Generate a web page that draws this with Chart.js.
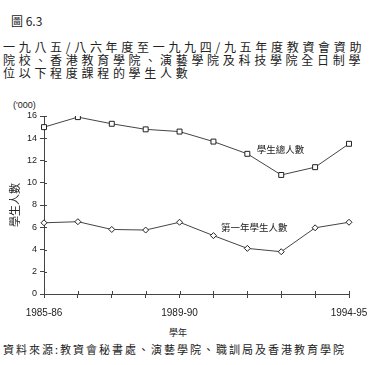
<!DOCTYPE html>
<html>
<head>
<meta charset="utf-8">
<script src="https://cdn.jsdelivr.net/npm/chart.js@4/dist/chart.umd.min.js"></script>
<style>
  body { margin: 0; background: #fff; width: 390px; height: 365px; overflow: hidden; position: relative;
         font-family: "Noto Sans CJK TC", sans-serif; color: #222; }
  .txt { position: absolute; white-space: nowrap; line-height: 1; }
  #fig { left: 11px; top: 15px; font-size: 12px; }
  .head { left: 3px; font-size: 12px; letter-spacing: 3.7px; }
  #unit { left: 13px; top: 101px; font-family: "Liberation Sans", sans-serif; font-size: 9px; }
  #xtitle { left: 169px; top: 328px; font-size: 9px; }
  #src { left: 3px; top: 344px; font-size: 11px; letter-spacing: 2px; }
  canvas { position: absolute; left: 0; top: 0; }
</style>
</head>
<body>
<div class="txt" id="fig">圖 6.3</div>
<div class="txt head" style="top:41px">一九八五/八六年度至一九九四/九五年度教資會資助</div>
<div class="txt head" style="top:54px">院校、香港教育學院、演藝學院及科技學院全日制學</div>
<div class="txt head" style="top:67px">位以下程度課程的學生人數</div>
<div class="txt" id="unit">('000)</div>
<div class="txt" id="xtitle">學年</div>
<div class="txt" id="src">資料來源:教資會秘書處、演藝學院、職訓局及香港教育學院</div>
<canvas id="grafico" width="390" height="365"></canvas>
<script>
const anos = ["1985-86", "1986-87", "1987-88", "1988-89", "1989-90",
              "1990-91", "1991-92", "1992-93", "1993-94", "1994-95"];
const anosMostrados = ["1985-86", "1989-90", "1994-95"];
const totalAlunos = [15.0, 15.9, 15.3, 14.8, 14.6, 13.7, 12.6, 10.7, 11.4, 13.5];
const primeiroAno = [6.4, 6.5, 5.8, 5.75, 6.45, 5.25, 4.1, 3.8, 5.95, 6.45];
const rotulos = [
    { texto: "學生總人數", x: 6.28, y: 13.0 },
    { texto: "第一年學生人數", x: 5.22, y: 5.95 }
];

const corLinha = "#444";

// ticks que cruzam o eixo e textos dentro do grafico
const extras = {
    id: "extras",
    afterDraw(chart) {
        const ctx = chart.ctx;
        const x = chart.scales.x;
        const y = chart.scales.y;
        ctx.save();
        ctx.strokeStyle = corLinha;
        ctx.lineWidth = 1;
        ctx.beginPath();
        x.ticks.forEach((t, i) => {
            const px = Math.round(x.getPixelForTick(i)) + 0.5;
            ctx.moveTo(px, y.bottom);
            ctx.lineTo(px, y.bottom - 3);
        });
        y.ticks.forEach((t, i) => {
            const py = Math.round(y.getPixelForTick(i)) + 0.5;
            ctx.moveTo(x.left, py);
            ctx.lineTo(x.left + 3, py);
        });
        ctx.stroke();

        ctx.fillStyle = "#222";
        ctx.font = '9.5px "Noto Sans CJK TC"';
        ctx.textBaseline = "middle";
        ctx.textAlign = "left";
        rotulos.forEach(r => {
            ctx.fillText(r.texto, x.getPixelForValue(r.x), y.getPixelForValue(r.y));
        });
        ctx.restore();
    }
};

const grafico = new Chart(document.getElementById("grafico"), {
    type: "line",
    data: {
        labels: anos,
        datasets: [{
            label: "學生總人數",
            data: totalAlunos,
            borderColor: corLinha,
            borderWidth: 1,
            pointStyle: "rect",
            pointRadius: 3.5,
            pointBackgroundColor: "#fff",
            pointBorderColor: "#222",
            pointBorderWidth: 1,
            tension: 0
        }, {
            label: "第一年學生人數",
            data: primeiroAno,
            borderColor: corLinha,
            borderWidth: 1,
            pointStyle: "rectRot",
            pointRadius: 3,
            pointBackgroundColor: "#fff",
            pointBorderColor: "#222",
            pointBorderWidth: 1,
            tension: 0
        }]
    },
    options: {
        responsive: false,
        animation: false,
        layout: { padding: { left: 0, top: 116, right: 41, bottom: 41 } },
        plugins: {
            legend: { display: false },
            tooltip: { enabled: false }
        },
        scales: {
            x: {
                offset: false,
                afterFit: (s) => { s.height = 30; },
                grid: { display: true, drawOnChartArea: false, tickLength: 4, color: corLinha },
                border: { color: corLinha },
                ticks: {
                    autoSkip: false,
                    maxRotation: 0,
                    padding: 9,
                    color: "#222",
                    font: { family: "Liberation Sans", size: 10 },
                    callback: function (v, i) {
                        const l = anos[i];
                        return anosMostrados.includes(l) ? l : "";
                    }
                }
            },
            y: {
                min: 0,
                max: 16,
                afterFit: (s) => { s.width = 44; },
                grid: { display: true, drawOnChartArea: false, tickLength: 4, color: corLinha },
                border: { color: corLinha },
                ticks: {
                    stepSize: 2,
                    padding: 3,
                    color: "#222",
                    font: { family: "Liberation Sans", size: 9 }
                },
                title: {
                    display: true,
                    text: "學生人數",
                    color: "#222",
                    font: { family: "Noto Sans CJK TC", size: 11 },
                    padding: { top: 8 }
                }
            }
        }
    },
    plugins: [extras]
});
</script>
</body>
</html>
